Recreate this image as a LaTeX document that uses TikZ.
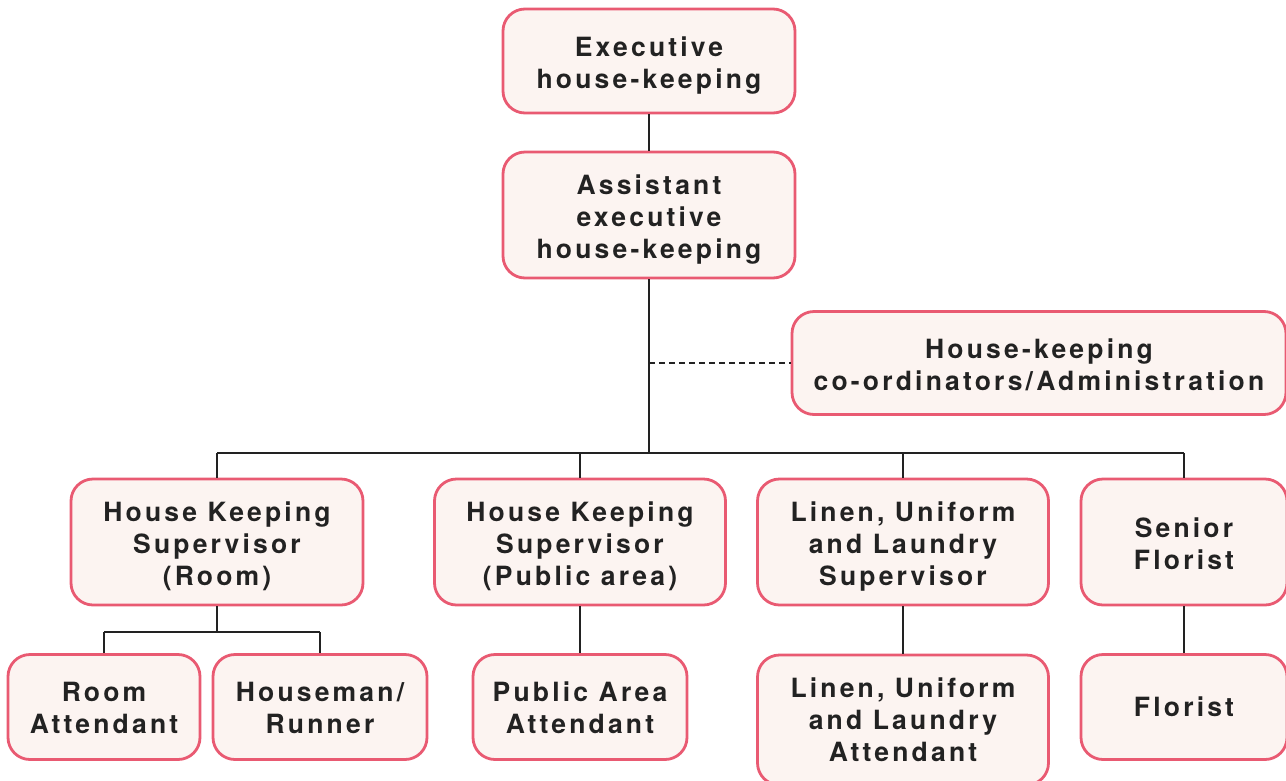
\documentclass[tikz,border=0pt]{standalone}
\usepackage{fontspec}
\newfontfamily\boxfont{TeX Gyre Heros}[LetterSpace=12]
\definecolor{boxline}{HTML}{E95A72}
\definecolor{boxfill}{HTML}{FCF4F1}
\definecolor{linec}{HTML}{222222}
\definecolor{textc}{HTML}{222222}
% strut of a given height on the first line of a box, to settle the text vertically
\newcommand\firstline[1]{\rule{0pt}{#1pt}}
\begin{document}
\begin{tikzpicture}[x=1pt,y=-1pt,
  box/.style={draw=boxline, fill=boxfill, line width=2.8pt, rounded corners=22pt,
    align=center, inner sep=0pt, text=textc,
    font=\boxfont\bfseries\fontsize{26.5}{32}\selectfont},
  link/.style={draw=linec, line width=2pt},
  dlink/.style={link, dash pattern=on 6pt off 4pt}]
\useasboundingbox (0,0) rectangle (1286,780);

% top of the chart
\node[box, minimum width=292pt, minimum height=104pt] (exec) at (649,61) {\firstline{28.5}Executive\\house-keeping};
\node[box, minimum width=292pt, minimum height=126pt] (asst) at (649,215) {\firstline{28.5}Assistant\\executive\\house-keeping};
\node[box, minimum width=494pt, minimum height=103pt] (coord) at (1039,363) {\firstline{22.5}House-keeping\\co-ordinators/Administration};

% supervisors
\node[box, minimum width=292pt, minimum height=126pt] (hksr) at (217,542) {\firstline{28.5}House Keeping\\Supervisor\\(Room)};
\node[box, minimum width=291pt, minimum height=126pt] (hksp) at (580,542) {\firstline{28.5}House Keeping\\Supervisor\\(Public area)};
\node[box, minimum width=291pt, minimum height=126pt] (lus) at (903,542) {\firstline{28.5}Linen, Uniform\\and Laundry\\Supervisor};
\node[box, minimum width=206pt, minimum height=126pt] (sflo) at (1184,542) {\firstline{22.5}Senior\\Florist};

% staff
\node[box, minimum width=192pt, minimum height=105pt] (ra) at (104,707) {\firstline{20.5}Room\\Attendant};
\node[box, minimum width=214pt, minimum height=105pt] (hm) at (320,707) {\firstline{20.5}Houseman/\\Runner};
\node[box, minimum width=214pt, minimum height=105pt] (paa) at (580,707) {\firstline{20.5}Public Area\\Attendant};
\node[box, minimum width=291pt, minimum height=130pt] (lua) at (903,720) {\firstline{18.5}Linen, Uniform\\and Laundry\\Attendant};
\node[box, minimum width=206pt, minimum height=105pt] (flo) at (1184,707) {Florist};

% connectors
\coordinate (dash) at (649,363);
\coordinate (bar) at (649,453);
\coordinate (sub) at (217,632);

\draw[link] (exec.south) -- (asst.north);
\draw[link] (asst.south) -- (bar);
\draw[dlink] (dash) -- (coord.west);
\draw[link] (hksr.north |- bar) -- (sflo.north |- bar);
\foreach \n in {hksr,hksp,lus,sflo} \draw[link] (\n.north |- bar) -- (\n.north);

\draw[link] (hksr.south) -- (sub);
\draw[link] (ra.north |- sub) -- (hm.north |- sub);
\draw[link] (ra.north |- sub) -- (ra.north);
\draw[link] (hm.north |- sub) -- (hm.north);
\draw[link] (hksp.south) -- (paa.north);
\draw[link] (lus.south) -- (lua.north);
\draw[link] (sflo.south) -- (flo.north);
\end{tikzpicture}
\end{document}
